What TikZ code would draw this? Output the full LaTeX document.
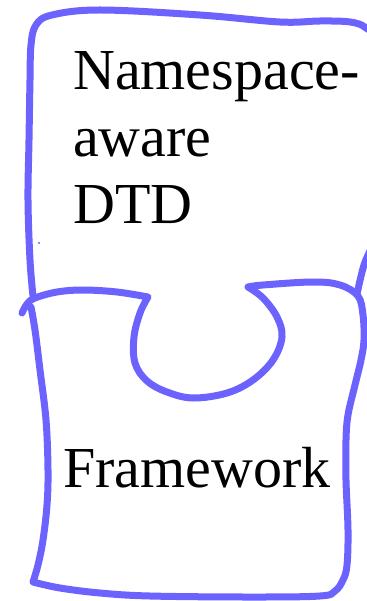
\documentclass[tikz,border=0pt]{standalone}
\usepackage{fontspec}
\setmainfont{Liberation Serif}
\definecolor{pen}{RGB}{108,99,255}
\begin{document}
\begin{tikzpicture}[x=1pt,y=-1pt,
  penline/.style={draw=pen,line width=7pt,line cap=round,line join=round},
  label/.style={inner sep=0pt,font=\fontsize{58}{67}\selectfont,text=black}]
\useasboundingbox (0,0) rectangle (366,601);
% upper piece
\draw[penline] plot[smooth,tension=0.6] coordinates {(33,296) (30,260) (28,200) (29,140) (30,80) (31,45) (36,25) (52,15) (100,10) (200,15) (280,22) (320,21) (350,22) (366,28) (378,45) (384,120) (382,200) (374,240) (364,265) (357,294)};
% lower piece
\draw[penline] plot[smooth,tension=0.6] coordinates {(22,313) (27,304) (35,298) (57,292) (83,290) (117,292) (148,297)}
  -- plot[smooth,tension=0.6] coordinates {(148,297) (140,313) (134,337) (135,363) (147,381) (167,392) (193,398) (227,393) (253,380) (273,360) (282,337) (277,317) (263,298) (248,287)}
  -- plot[smooth,tension=0.6] coordinates {(248,287) (263,285) (313,282) (340,285) (358,296) (363,315) (364,340) (361,360) (355,385) (348,415) (346,440) (346,480) (348,530) (347,565) (343,580) (335,591) (320,596) (250,597) (150,596) (100,593) (60,588) (33,582)}
  -- plot[smooth,tension=0.6] coordinates {(33,582) (38,565) (43,540) (47,505) (48,470) (46,420) (40,370) (35,330) (31,307)};
\fill[pen] (39,243) circle (1.2);
\node[label,anchor=base west] (top) at (73,90) {\begin{tabular}[t]{@{}l@{}}Namespace-\\aware\\DTD\end{tabular}};
\node[label,anchor=base west] (bottom) at (63,487) {Framework};
\end{tikzpicture}
\end{document}
